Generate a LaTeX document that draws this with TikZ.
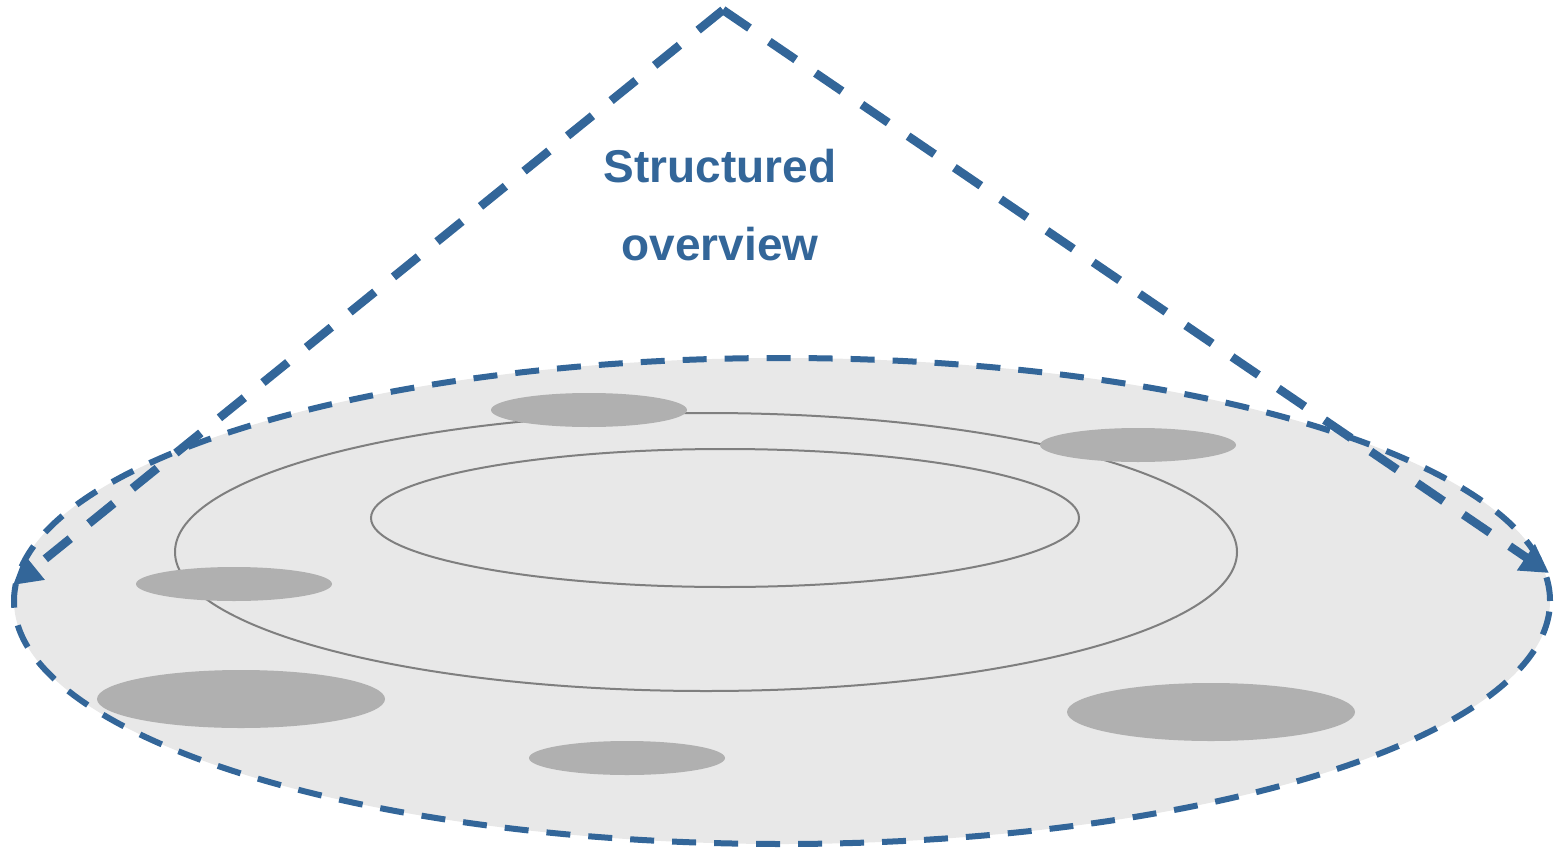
\documentclass[tikz,border=0pt]{standalone}
\usepackage{fontspec}
\setmainfont{Liberation Sans}
\usetikzlibrary{shapes.geometric,arrows.meta}
\definecolor{steelblue}{HTML}{336699}
\definecolor{discfill}{HTML}{E8E8E8}
\definecolor{blobfill}{HTML}{B0B0B0}
\definecolor{ringline}{HTML}{7F7F7F}
\tikzset{
  disc/.style={ellipse, inner sep=0pt, fill=discfill, draw=steelblue,
    line width=6pt, dash pattern=on 24pt off 18pt},
  ring/.style={ellipse, inner sep=0pt, draw=ringline, line width=2pt},
  blob/.style={ellipse, inner sep=0pt, fill=blobfill},
  smallblob/.style={blob, minimum width=196pt, minimum height=34pt},
  bigblob/.style={blob, minimum width=288pt, minimum height=58pt},
  viewline/.style={draw=steelblue, line width=8.5pt, dash pattern=on 32pt off 24pt,
    -{Triangle[length=28pt,width=30pt]}},
  caption/.style={align=center, text=steelblue,
    font={\fontsize{46}{78}\selectfont\bfseries}}
}
\begin{document}
\begin{tikzpicture}[x=1pt,y=-1pt]
\useasboundingbox (0,0) rectangle (1560,851);

% the field and its two nested rings
\node[disc, minimum width=1536pt, minimum height=486pt] (field) at (782,601) {};
\node[ring, minimum width=1062pt, minimum height=278pt] (outerring) at (706,552) {};
\node[ring, minimum width=708pt, minimum height=138pt] (innerring) at (725,518) {};

% grey patches spread over the field
\node[smallblob] (p1) at (589,410) {};
\node[smallblob] (p2) at (1138,445) {};
\node[smallblob] (p3) at (234,584) {};
\node[bigblob]   (p4) at (241,699) {};
\node[smallblob] (p5) at (627,758) {};
\node[bigblob]   (p6) at (1211,712) {};

% view cone from the top point down to the edges of the field
\coordinate (apex) at (723,10);
\coordinate (lefttip) at (13,585);
\coordinate (righttip) at (1549,573);
\draw[viewline] (apex) -- (lefttip);
\draw[viewline] (apex) -- (righttip);

\node[caption] (label) at (720,205) {Structured\\overview};
\end{tikzpicture}
\end{document}
